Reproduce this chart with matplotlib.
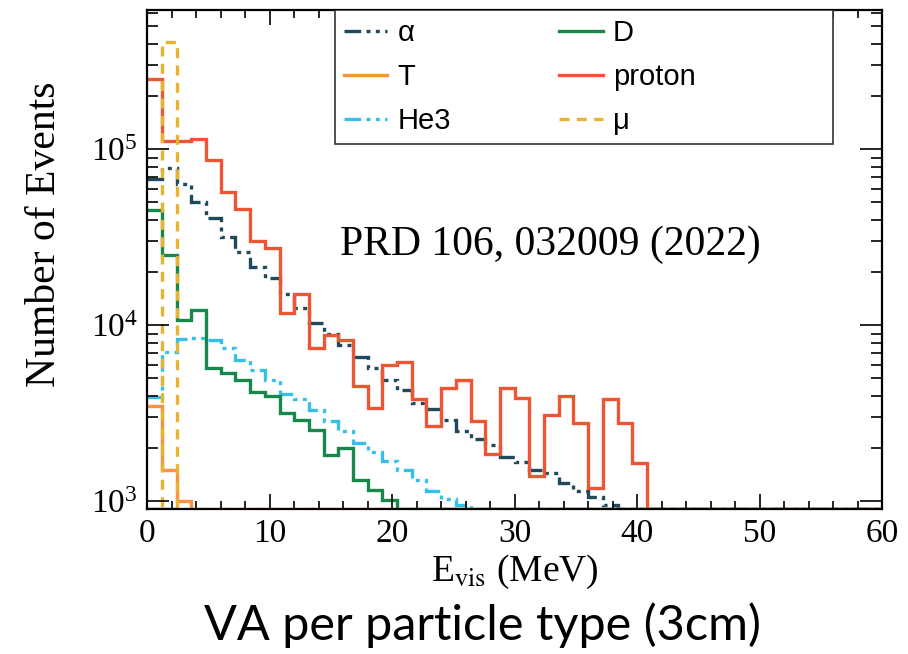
import numpy as np
import matplotlib
matplotlib.use("Agg")
import matplotlib.pyplot as plt
from matplotlib.patches import Rectangle
from matplotlib.ticker import MultipleLocator, LogLocator, NullFormatter

plt.rcParams['font.family'] = ['Liberation Serif', 'DejaVu Serif']
plt.rcParams['mathtext.fontset'] = 'stix'

# 50 bins of 1.2 MeV between 0 and 60 MeV
edges = np.linspace(0, 60, 51)

alpha = [6.8e4, 7.8e4, 6.4e4, 5.05e4, 4.06e4, 3.2e4, 2.63e4, 2.16e4, 1.85e4, 1.5e4,
         1.25e4, 1.03e4, 9.0e3, 7.7e3, 6.65e3, 5.7e3, 4.9e3, 4.3e3, 3.64e3, 3.35e3,
         2.9e3, 2.5e3, 2.26e3, 2.1e3, 1.8e3, 1.68e3, 1.5e3, 1.45e3, 1.27e3, 1.15e3,
         1.06e3, 960] + [0] * 18
deuteron = [4.5e4, 2.5e4, 1.07e4, 1.22e4, 5.7e3, 5.35e3, 4.9e3, 4.2e3, 4.0e3, 3.17e3,
            2.9e3, 2.55e3, 1.84e3, 2.0e3, 1.32e3, 1.16e3, 1.02e3] + [0] * 33
triton = [3.5e3, 1.5e3, 1.01e3] + [0] * 47
proton = [2.5e5, 1.11e5, 1.11e5, 1.14e5, 8.7e4, 5.7e4, 4.6e4, 3.0e4, 2.75e4, 1.17e4,
          1.5e4, 7.4e3, 8.8e3, 8.3e3, 4.5e3, 3.4e3, 6.0e3, 6.2e3, 3.8e3, 2.7e3,
          4.4e3, 4.9e3, 2.85e3, 1.86e3, 4.4e3, 3.85e3, 1.4e3, 3.1e3, 4.0e3, 2.8e3,
          1.2e3, 3.8e3, 2.8e3, 1.66e3] + [0] * 16
he3 = [3.9e3, 7.1e3, 8.4e3, 8.5e3, 8.3e3, 7.4e3, 6.4e3, 5.6e3, 4.9e3, 4.1e3,
       3.8e3, 3.3e3, 2.85e3, 2.5e3, 2.15e3, 1.92e3, 1.7e3, 1.5e3, 1.33e3, 1.15e3,
       1.03e3, 950] + [0] * 28
muon = [0, 4.1e5] + [0] * 48
other = [0, 0]

ymin, ymax = 906, 6.2e5

fig = plt.figure(figsize=(9.08, 6.54), dpi=100)
ax = fig.add_axes([0.1622, 0.2217, 0.8092, 0.7630])


def draw(vals, color, ls, label, e=edges):
    v = np.clip(np.array(vals, dtype=float), ymin, None)
    return ax.stairs(v, e, baseline=None, color=color, lw=2.4, ls=ls, label=label)


dashdot = (0, (5, 1.6, 1.2, 1.6, 1.2, 1.6))
h_a = draw(alpha, '#1f4a5c', dashdot, 'α')
h_t = draw(triton, '#f7943c', '-', 'T')
h_h = draw(he3, '#35c0e8', dashdot, 'He3')
h_d = draw(deuteron, '#17874a', '-', 'D')
h_p = draw(proton, '#ee5533', '-', 'proton')
draw(other, '#1c1c8c', '-', None, e=edges[:3])
h_m = draw(muon, '#e8b330', (0, (3, 2.2)), 'μ')

ax.set_yscale('log')
ax.set_xlim(0, 60)
ax.set_ylim(ymin, ymax)

ax.xaxis.set_major_locator(MultipleLocator(10))
ax.xaxis.set_minor_locator(MultipleLocator(2))
ax.yaxis.set_major_locator(LogLocator(base=10))
ax.yaxis.set_minor_locator(LogLocator(base=10, subs=np.arange(2, 10)))
ax.yaxis.set_minor_formatter(NullFormatter())

ax.tick_params(which='both', direction='in', top=True, right=True, width=1.2, labelsize=24)
ax.tick_params(axis='x', which='major', length=11, pad=7)
ax.tick_params(axis='x', which='minor', length=6)
ax.tick_params(axis='y', which='major', length=16, pad=7)
ax.tick_params(axis='y', which='minor', length=8)
for s in ax.spines.values():
    s.set_linewidth(1.6)

ax.set_xlabel(r'E$_{\rm vis}$ (MeV)', fontsize=27, va='center')
ax.xaxis.set_label_coords(0.5, -0.126)
ax.set_ylabel('Number of Events', fontsize=30, va='center')
ax.yaxis.set_label_coords(-0.139, 0.55)

ax.text(0.549, 0.529, 'PRD 106, 032009 (2022)', transform=ax.transAxes,
        ha='center', va='center', fontsize=30)

# legend box (fixed size, as in the original) with legend entries inside
ax.add_patch(Rectangle((0.2554, 0.7315), 0.6776, 0.2685, transform=ax.transAxes,
                       facecolor='white', edgecolor='#333333', lw=1.2, zorder=4))
leg = ax.legend([h_a, h_t, h_h, h_d, h_p, h_m], ['α', 'T', 'He3', 'D', 'proton', 'μ'],
                ncol=2, loc='upper left', bbox_to_anchor=(0.2554, 1.0),
                borderaxespad=0, frameon=False, handlelength=1.5, handletextpad=0.35,
                labelspacing=0.55, borderpad=0.3, columnspacing=3.7,
                prop={'family': ['Liberation Sans', 'DejaVu Sans'], 'size': 21})
leg.set_zorder(5)

fig.text(0.531, 0.044, 'VA per particle type (3cm)', ha='center', va='center',
         fontsize=35, family=['Lato', 'DejaVu Sans'])

fig.savefig('out.png', dpi=100)
